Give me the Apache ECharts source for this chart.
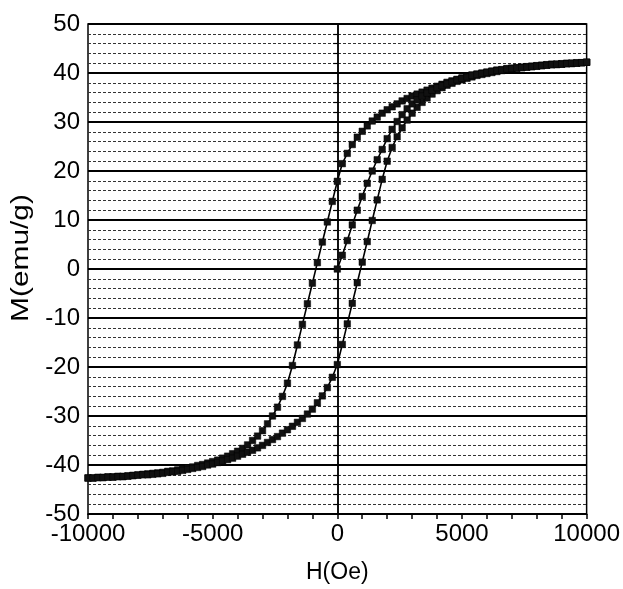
<!DOCTYPE html>
<html>
<head>
<meta charset="utf-8">
<script src="https://cdn.jsdelivr.net/npm/echarts/dist/echarts.min.js"></script>
<style>
  html, body { margin: 0; padding: 0; background: #fff; }
  #chart { width: 623px; height: 589px; }
</style>
</head>
<body>
<div id="chart"></div>
<script>
// field H (Oe), one point every 200 Oe
const H = [
  -10000, -9800, -9600, -9400, -9200, -9000, -8800, -8600, -8400, -8200,
  -8000, -7800, -7600, -7400, -7200, -7000, -6800, -6600, -6400, -6200,
  -6000, -5800, -5600, -5400, -5200, -5000, -4800, -4600, -4400, -4200,
  -4000, -3800, -3600, -3400, -3200, -3000, -2800, -2600, -2400, -2200,
  -2000, -1800, -1600, -1400, -1200, -1000, -800, -600, -400, -200,
  0, 200, 400, 600, 800, 1000, 1200, 1400, 1600, 1800,
  2000, 2200, 2400, 2600, 2800, 3000, 3200, 3400, 3600, 3800,
  4000, 4200, 4400, 4600, 4800, 5000, 5200, 5400, 5600, 5800,
  6000, 6200, 6400, 6600, 6800, 7000, 7200, 7400, 7600, 7800,
  8000, 8200, 8400, 8600, 8800, 9000, 9200, 9400, 9600, 9800,
  10000
];

// upper branch (field coming down from +10000), M in emu/g
const descM = [
  -42.6, -42.6, -42.5, -42.5, -42.4, -42.4, -42.3, -42.3, -42.2, -42.1,
  -42.0, -41.9, -41.8, -41.7, -41.6, -41.5, -41.3, -41.2, -41.0, -40.8,
  -40.6, -40.4, -40.1, -39.9, -39.6, -39.3, -39.0, -38.6, -38.2, -37.7,
  -37.2, -36.6, -35.9, -35.0, -34.1, -33.0, -31.6, -30.0, -28.2, -26.0,
  -23.3, -19.7, -15.5, -11.3, -7.1, -2.9, 1.3, 5.5, 9.6, 13.8,
  17.9, 21.5, 23.6, 25.4, 26.9, 28.1, 29.2, 30.2, 31.0, 31.8,
  32.5, 33.1, 33.7, 34.3, 34.8, 35.3, 35.7, 36.1, 36.5, 36.9,
  37.3, 37.7, 38.1, 38.4, 38.7, 39.0, 39.3, 39.6, 39.8, 40.0,
  40.2, 40.4, 40.6, 40.7, 40.9, 41.0, 41.1, 41.2, 41.3, 41.4,
  41.5, 41.6, 41.7, 41.8, 41.8, 41.9, 42.0, 42.0, 42.1, 42.1,
  42.2
];

// lower branch (field going up from -10000)
const ascM = [
  -42.7, -42.7, -42.6, -42.6, -42.5, -42.5, -42.4, -42.4, -42.3, -42.2,
  -42.1, -42.0, -42.0, -41.9, -41.8, -41.7, -41.5, -41.4, -41.3, -41.1,
  -40.9, -40.7, -40.5, -40.3, -40.0, -39.8, -39.5, -39.2, -38.9, -38.6,
  -38.2, -37.8, -37.4, -37.0, -36.5, -36.0, -35.4, -34.8, -34.2, -33.5,
  -32.8, -32.1, -31.3, -30.5, -29.6, -28.6, -27.3, -25.9, -24.2, -22.1,
  -19.5, -15.4, -11.2, -7.0, -2.8, 1.4, 5.6, 9.9, 14.1, 18.3,
  22.0, 24.8, 27.0, 28.8, 30.4, 31.8, 33.0, 34.0, 34.9, 35.7,
  36.4, 37.0, 37.5, 37.9, 38.3, 38.6, 38.9, 39.2, 39.5, 39.7,
  39.9, 40.1, 40.3, 40.5, 40.7, 40.8, 41.0, 41.1, 41.2, 41.3,
  41.4, 41.5, 41.6, 41.7, 41.7, 41.8, 41.9, 41.9, 42.0, 42.1,
  42.2
];

// initial curve from the origin, H = 0 ... 10000
const virginM = [
  0.0, 2.8, 5.8, 9.0, 12.0, 14.8, 17.5, 20.0, 22.3, 24.4,
  26.6, 28.5, 30.1, 31.5, 32.7, 33.7, 34.5, 35.3, 35.9, 36.5,
  37.0, 37.4, 37.8, 38.2, 38.6, 38.9, 39.2, 39.5, 39.7, 39.9,
  40.1, 40.3, 40.5, 40.6, 40.8, 40.9, 41.0, 41.1, 41.2, 41.3,
  41.4, 41.5, 41.6, 41.7, 41.8, 41.8, 41.9, 42.0, 42.0, 42.1,
  42.2
];

const xLabels = [-10000, -5000, 0, 5000, 10000];

const font = "Liberation Sans, Arial, sans-serif";

const chart = echarts.init(document.getElementById("chart"));

function curve(xs, ys) {
  return ys.map((m, i) => [xs[i], m]);
}

function branch(data) {
  return {
    type: "line",
    data: data,
    symbol: "rect",
    symbolSize: 6.5,
    showSymbol: true,
    animation: false,
    lineStyle: { color: "#000", width: 1.6 },
    itemStyle: { color: "#111", borderColor: "#000", borderWidth: 0.5 },
    z: 5,
  };
}

const up = branch(curve(H, descM));
// vertical line at H = 0
up.markLine = {
  silent: true,
  symbol: "none",
  label: { show: false },
  lineStyle: { color: "#000", width: 1.5, type: "solid" },
  data: [{ xAxis: 0 }],
};

chart.setOption({
  backgroundColor: "#fff",
  grid: {
    left: 88,
    right: 35,
    top: 24,
    bottom: 72,
    show: true,
    borderColor: "#000",
    borderWidth: 1.5,
  },
  // y axis title, stretched along its length like the scan
  graphic: [
    {
      type: "text",
      x: 22,
      y: 258,
      rotation: Math.PI / 2,
      scaleX: 1.3,
      style: {
        text: "M(emu/g)",
        font: "23px " + font,
        fill: "#000",
        align: "center",
        verticalAlign: "middle",
      },
    },
  ],
  xAxis: {
    type: "value",
    min: -10000,
    max: 10000,
    interval: 1000,
    name: "H(Oe)",
    nameLocation: "middle",
    nameGap: 47,
    nameTextStyle: { fontFamily: font, fontSize: 23, color: "#000" },
    axisLine: { onZero: false, lineStyle: { color: "#000", width: 1.5 } },
    axisTick: { show: true, length: 5, lineStyle: { color: "#000", width: 1.5 } },
    axisLabel: {
      fontFamily: font,
      fontSize: 24,
      color: "#000",
      margin: 8,
      showMinLabel: true,
      showMaxLabel: true,
      formatter: (v) => (xLabels.indexOf(v) >= 0 ? String(v) : ""),
    },
    splitLine: { show: false },
  },
  yAxis: {
    type: "value",
    min: -50,
    max: 50,
    interval: 10,
    axisLine: { lineStyle: { color: "#000", width: 1.5 } },
    axisTick: { show: true, length: 6, lineStyle: { color: "#000", width: 1.5 } },
    minorTick: { show: true, splitNumber: 5, length: 4, lineStyle: { color: "#000", width: 1.2 } },
    axisLabel: { fontFamily: font, fontSize: 24, color: "#000", margin: 8 },
    splitLine: { show: true, lineStyle: { color: "#000", width: 1.8 } },
    minorSplitLine: { show: true, lineStyle: { color: "#333", width: 1, type: [3, 2] } },
  },
  series: [up, branch(curve(H, ascM)), branch(curve(H.slice(50), virginM))],
});
</script>
</body>
</html>
